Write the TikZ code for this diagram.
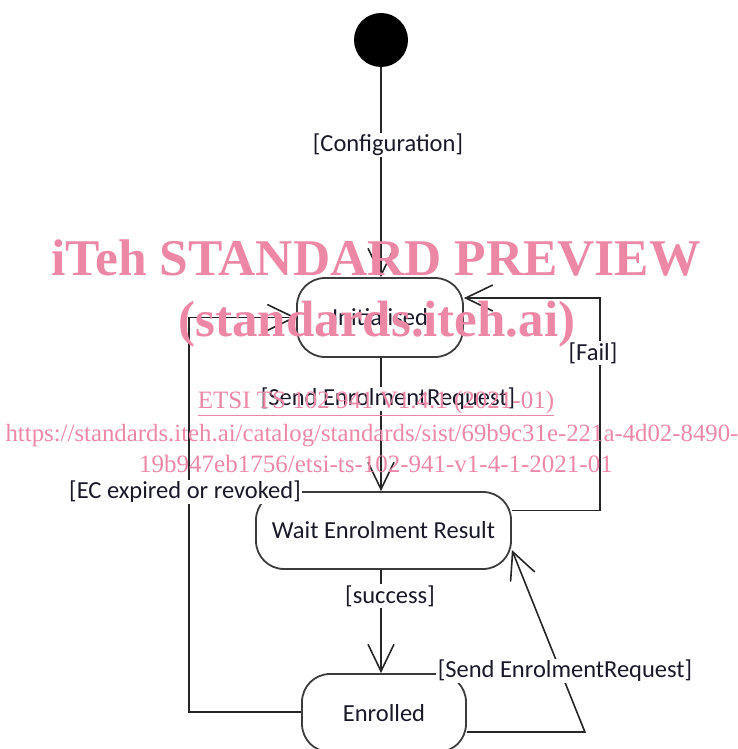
\documentclass[tikz,border=0pt]{standalone}
\usepackage{fontspec}
\setmainfont{Carlito}
\newfontfamily\wmfont{Liberation Serif}
\usetikzlibrary{arrows.meta}
\definecolor{wm}{RGB}{236,136,166}
\definecolor{ln}{RGB}{38,38,38}
\definecolor{bx}{RGB}{60,60,60}
\definecolor{tx}{RGB}{25,25,40}
\tikzset{
  statebox/.style={draw=bx, line width=1.8pt, rounded corners=28pt, fill=white,
    inner sep=0pt, text=tx, font=\fontsize{24.5}{28}\selectfont},
  lbl/.style={fill=white, text=tx, inner sep=1.5pt, font=\fontsize{24.5}{28}\selectfont},
  conn/.style={draw=ln, line width=1.6pt},
  arr/.style={conn, -{Straight Barb[length=27pt,width=26pt,line width=1.6pt]}},
  wmtext/.style={text=wm, inner sep=0pt, anchor=base}
}
\begin{document}
\begin{tikzpicture}[x=1pt,y=-1pt]
\useasboundingbox (0,0) rectangle (738,749);
% nodes
\node[circle, fill=black, minimum size=54pt, inner sep=0pt] (init) at (381,40) {};
\node[statebox, minimum width=166pt, minimum height=79pt] (initd) at (380,317.5) {Initialised};
\node[statebox, minimum width=255pt, minimum height=77pt] (wait) at (383.5,530.5) {Wait Enrolment Result};
\node[statebox, minimum width=164pt, minimum height=78pt] (enr) at (384,713) {Enrolled};
% connectors
\draw[arr] (init.south) -- (init.south |- initd.north);
\draw[arr] (init.south |- initd.south) -- (init.south |- wait.north);
\draw[arr] (init.south |- wait.south) -- (init.south |- enr.north);
\draw[arr] ([yshift=20pt]wait.east) -- ++(88,0) |- ([yshift=19.5pt]initd.east);
\draw[arr] ([yshift=1pt]enr.west) -- ++(-112,0) |- (initd.west);
\draw[arr] ([yshift=-19pt]enr.east) -- ++(118,0) -- ([yshift=-19.5pt]wait.east);
% labels
\node[lbl] (lconf) at (388,145) {[Configuration]};
\node[lbl] (lsend1) at (388,399) {[Send EnrolmentRequest]};
\node[lbl] (lfail) at (593,353) {[Fail]};
\node[lbl] (lec) at (185,492) {[EC expired or revoked]};
\node[lbl] (lsucc) at (390,596) {[success]};
\node[lbl] (lsend2) at (565,671) {[Send EnrolmentRequest]};
% watermark
\node[wmtext, font=\wmfont\bfseries\fontsize{51.5}{56}\selectfont] (wm1) at (376,275) {iTeh STANDARD PREVIEW};
\node[wmtext, font=\wmfont\bfseries\fontsize{51}{56}\selectfont] (wm2) at (377,336) {(standards.iteh.ai)};
\node[wmtext, font=\wmfont\fontsize{25}{28}\selectfont] (wm3) at (376,408) {\underline{ETSI TS 102 941 V1.4.1 (2021-01)}};
\node[wmtext, font=\wmfont\fontsize{24.8}{28}\selectfont] (wm4) at (372,441) {https://standards.iteh.ai/catalog/standards/sist/69b9c31e-221a-4d02-8490-};
\node[wmtext, font=\wmfont\fontsize{25}{28}\selectfont] (wm5) at (376,472) {19b947eb1756/etsi-ts-102-941-v1-4-1-2021-01};
\end{tikzpicture}
\end{document}
